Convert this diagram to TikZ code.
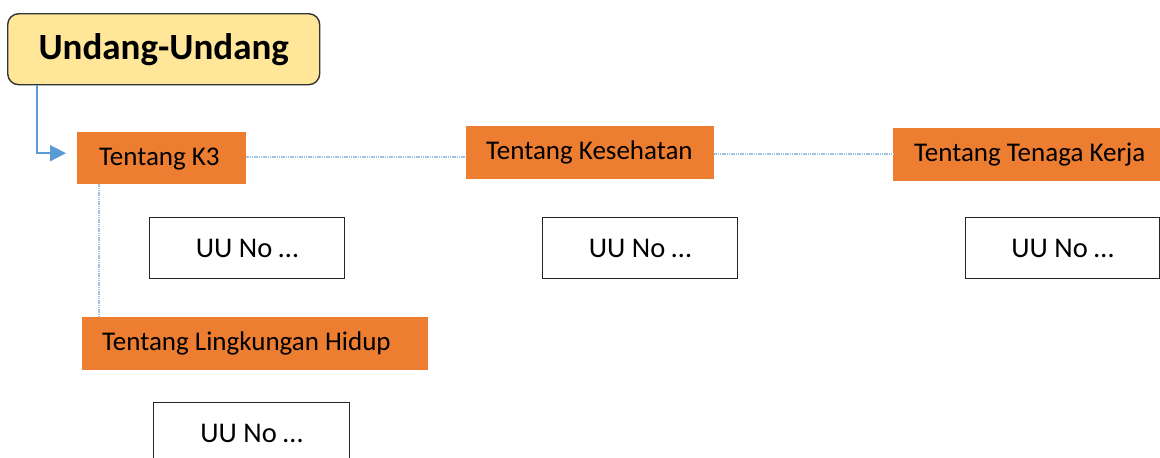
\documentclass[tikz,border=0pt]{standalone}
\usepackage{fontspec}
\setmainfont{Carlito}
\usetikzlibrary{arrows.meta,calc}
\definecolor{ttorange}{HTML}{ED7D31}
\definecolor{ttyellow}{HTML}{FFE699}
\definecolor{ttblue}{HTML}{5B9BD5}
\definecolor{ttdot}{HTML}{9DC3E6}
\begin{document}
\begin{tikzpicture}[x=1pt,y=-1pt,
  topic/.style={fill=ttorange, draw=none, anchor=north west, inner sep=0pt, minimum height=#1},
  topictext/.style={anchor=west, inner sep=0pt, font=\fontsize{27}{30}\selectfont},
  uubox/.style={draw=black!85, line width=1.2pt, fill=white, anchor=north west, minimum width=195pt,
    minimum height=61pt, inner sep=0pt, font=\fontsize{28.5}{32}\selectfont},
  dotline/.style={draw=ttdot, line width=1.6pt, dash pattern=on 1.2pt off 0.6pt}
]
\useasboundingbox (0,0) rectangle (1160,458);
\node[anchor=north west, draw=black!80, line width=1.4pt, fill=ttyellow, rounded corners=11pt,
  minimum width=312pt, minimum height=71pt, inner sep=0pt,
  font=\fontsize{37}{42}\selectfont\bfseries] (U) at (7,13) {Undang-Undang};
\node[topic=52pt, minimum width=169pt] (K3) at (77,132) {};
\node[topictext] (K3t) at ([xshift=22pt,yshift=-1pt]K3.west) {Tentang K3};
\node[topic=53pt, minimum width=248pt] (KS) at (466,126) {};
\node[topictext] (KSt) at ([xshift=20pt]KS.west) {Tentang Kesehatan};
\node[topic=53pt, minimum width=267pt] (TK) at (893,128) {};
\node[topictext] (TKt) at ([xshift=21pt]TK.west) {Tentang Tenaga Kerja};
\node[topic=53pt, minimum width=346pt] (LH) at (82,317) {};
\node[topictext] (LHt) at ([xshift=20pt]LH.west) {Tentang Lingkungan Hidup};
\node[uubox] (u1) at (149,217) {UU No …};
\node[uubox] (u2) at (542,217) {UU No …};
\node[uubox, minimum width=194pt] (u3) at (965,217) {UU No …};
\node[uubox, minimum width=196pt] (u4) at (153,402) {UU No …};
\draw[ttblue, line width=1.8pt, shorten >=11pt, -{Triangle[length=16pt,width=16pt]}]
  ([xshift=30pt]U.south west) |- ([yshift=5pt]K3.west);
\draw[dotline] ([yshift=1pt]K3.east) -- ([yshift=1pt]KS.west |- K3.east);
\draw[dotline] ([yshift=-1.5pt]KS.east) -- ([yshift=-1.5pt]TK.west |- KS.east);
\draw[dotline] ([xshift=22pt]K3.south west) -- ([xshift=22pt]K3.south west |- LH.north);
\end{tikzpicture}
\end{document}
